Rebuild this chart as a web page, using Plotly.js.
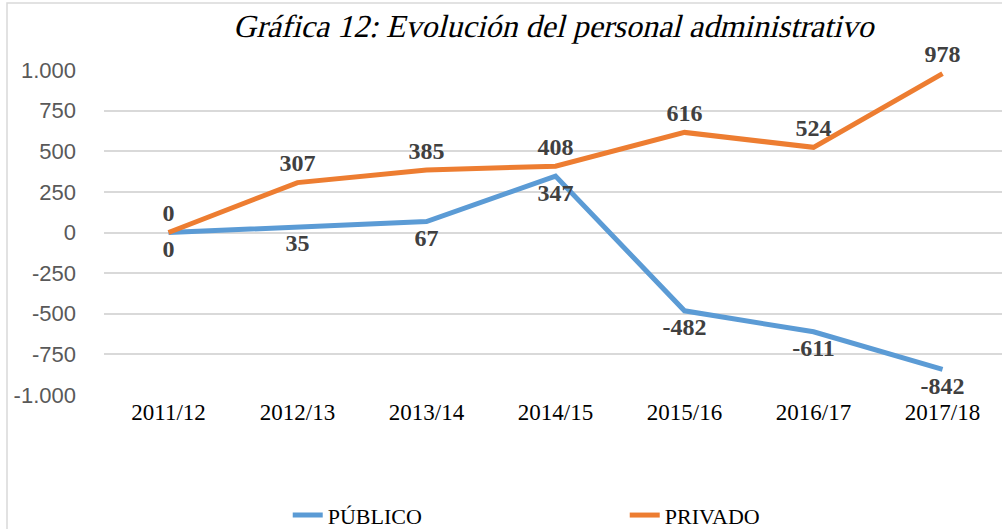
<!DOCTYPE html>
<html><head><meta charset="utf-8">
<script src="https://cdn.plot.ly/plotly-3.0.1.min.js"></script>
<style>html,body{margin:0;padding:0;background:#fff;overflow:hidden}#chart{width:1002px;height:529px}</style>
</head><body><div id="chart"></div>
<script>
const categories = ['2011/12','2012/13','2013/14','2014/15','2015/16','2016/17','2017/18'];
const publico = [0, 35, 67, 347, -482, -611, -842];
const privado = [0, 307, 385, 408, 616, 524, 978];
const yTickVals = [-1000,-750,-500,-250,0,250,500,750,1000];
const yTickText = ['-1.000','-750','-500','-250','0','250','500','750','1.000'];

const SERIF = 'Liberation Serif';
const labelFont = {family:SERIF, size:24, color:'#404040', weight:'bold'};
const hiddenMarker = (s) => ({size:s, color:'rgba(0,0,0,0)', line:{width:0}});

const traces = [
  {x:categories, y:publico, name:'PÚBLICO', type:'scatter', mode:'lines+markers+text',
   line:{color:'#5B9BD5', width:5}, marker:hiddenMarker(9),
   text:publico.map(String), textposition:'bottom center',
   textfont:labelFont, cliponaxis:false, hoverinfo:'skip'},
  {x:categories, y:privado, name:'PRIVADO', type:'scatter', mode:'lines+markers+text',
   line:{color:'#ED7D31', width:5}, marker:hiddenMarker(7),
   text:privado.map(String), textposition:'top center',
   textfont:labelFont, cliponaxis:false, hoverinfo:'skip'}
];

const layout = {
  width:1002, height:529,
  margin:{l:104, r:0, t:70, b:134, autoexpand:false},
  paper_bgcolor:'#fff', plot_bgcolor:'#fff',
  title:{text:'Gráfica 12: Evolución del personal administrativo',
    font:{family:SERIF, size:32, color:'#000'},
    x:0.555, xanchor:'center', y:0.951, yanchor:'middle', xref:'container', yref:'container'},
  xaxis:{type:'category', range:[-0.5, 6.461], showgrid:false, zeroline:false, showline:false,
    ticks:'', tickfont:{family:SERIF, size:23, color:'#000'},
    ticklabelstandoff:1, fixedrange:true},
  yaxis:{range:[-1000,1000], tickvals:yTickVals, ticktext:yTickText, showgrid:true,
    gridcolor:'#D9D9D9', gridwidth:2, zeroline:false, showline:false, ticks:'',
    tickfont:{family:'Liberation Sans', size:22, color:'#595959'},
    ticklabelstandoff:27, fixedrange:true},
  showlegend:true,
  legend:{orientation:'h', x:0.2046, xanchor:'left', y:-0.37, yanchor:'middle',
    font:{family:SERIF, size:22, color:'#000'},
    itemwidth:30, entrywidth:292, bgcolor:'rgba(0,0,0,0)', borderwidth:0},
  shapes:[{type:'rect', xref:'paper', yref:'paper', x0:(7-104)/898, x1:1.2, y0:-1, y1:(395-3)/325,
    line:{color:'#D9D9D9', width:1.5}, fillcolor:'rgba(0,0,0,0)', layer:'below'}]
};

Plotly.newPlot('chart', traces, layout, {displayModeBar:false, staticPlot:true}).then(function(gd){
  // Italic Times face is not installed: slant the serif title (still real text)
  var t = gd.querySelector('.gtitle');
  if (t) {
    var x = parseFloat(t.getAttribute('x')) || 0, y = parseFloat(t.getAttribute('y')) || 0;
    var tr = t.getAttribute('transform') || '';
    t.setAttribute('transform', tr + ' translate(' + x + ',' + y + ') skewX(-14) translate(' + (-x) + ',' + (-y) + ')');
  }
});
</script></body></html>
